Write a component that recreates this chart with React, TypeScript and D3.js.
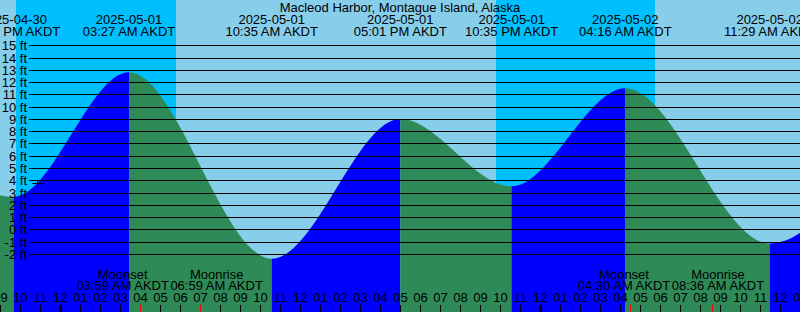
import React, { useMemo } from "react";
import * as d3 from "d3";

const W = 800;
const H = 312;
const FONT = "Liberation Sans, Arial, sans-serif";
const FS = 13;

const title = "Macleod Harbor, Montague Island, Alaska";
const tz = "AKDT";
// tide extremes (first and last lie just beyond the visible window)
const tideTimes = [
  "2025-04-30T15:35",
  "2025-04-30T21:41",
  "2025-05-01T03:27",
  "2025-05-01T10:35",
  "2025-05-01T17:01",
  "2025-05-01T22:35",
  "2025-05-02T04:16",
  "2025-05-02T11:29",
  "2025-05-02T17:50",
];
const tideHeights = [10.0, 2.65, 12.8, -2.4, 9.0, 3.5, 11.5, -1.15, 9.6];
const nightStarts = ["2025-04-30T21:48", "2025-05-01T21:48"];
const nightEnds = ["2025-05-01T05:48", "2025-05-02T05:45"];
const moonTimes = ["2025-05-01T03:59", "2025-05-01T06:59", "2025-05-02T04:30", "2025-05-02T08:36"];
const moonEvents = ["Moonset", "Moonrise", "Moonset", "Moonrise"];
const yTicks = d3.range(-2, 16);
const markerTime = "2025-04-30T22:50";
const markerHeight = 3.8;
const domainStart = "2025-04-30T21:00";
const domainEnd = "2025-05-02T13:00";

const parse = d3.utcParse("%Y-%m-%dT%H:%M");
const fmtDate = d3.utcFormat("%Y-%m-%d");
const fmtTime = d3.utcFormat("%I:%M %p");
const fmtHour = d3.utcFormat("%I");

const COLORS = {
  day: "#87CEEB",
  night: "#00BFFF",
  rising: "#0000FF",
  falling: "#2E8B57",
};

function measure(text: string): number {
  const c = document.createElement("canvas").getContext("2d");
  if (!c) return text.length * 7;
  c.font = `${FS}px ${FONT}`;
  return c.measureText(text).width;
}

export default function App() {
  const x = d3.scaleUtc().domain([parse(domainStart)!, parse(domainEnd)!]).range([0, W]);
  const y = d3.scaleLinear().domain([0, 15]).range([229.3, 45.3]);

  const tides = tideTimes.map((t, i) => ({ t: parse(t)!, v: tideHeights[i] }));

  const area = d3
    .area<{ t: Date; v: number }>()
    .x((d) => x(d.t))
    .y0(H)
    .y1((d) => y(d.v))
    .curve(d3.curveMonotoneX);
  const areaPath = area(tides) || "";

  const hours = d3.utcHour.range(parse(domainStart)!, d3.utcHour.offset(parse(domainEnd)!, 1));

  // moon labels with overlap resolution
  const moonLabels = useMemo(() => {
    const items = moonTimes.map((t, i) => {
      const d = parse(t)!;
      const timeStr = `${fmtTime(d)} ${tz}`;
      const w = Math.max(measure(timeStr), measure(moonEvents[i]));
      return { d, name: moonEvents[i], timeStr, w, cx: x(d) };
    });
    for (let i = 0; i < items.length - 1; i++) {
      const a = items[i];
      const b = items[i + 1];
      if (a.cx + a.w / 2 > b.cx - b.w / 2) {
        const mid = (x(a.d) + x(b.d)) / 2;
        a.cx = mid - a.w / 2;
        b.cx = mid + b.w / 2;
      }
    }
    return items;
  }, []);

  const textProps = { fontFamily: FONT, fontSize: FS, fill: "#000" };

  return (
    <svg
      width={W}
      height={H}
      style={{ position: "absolute", left: 0, top: 0, display: "block" }}
    >
      <defs>
        {tides.slice(0, -1).map((d, i) => (
          <clipPath id={`seg${i}`} key={i}>
            <rect x={x(d.t)} y={0} width={x(tides[i + 1].t) - x(d.t)} height={H} />
          </clipPath>
        ))}
      </defs>
      <rect x={0} y={0} width={W} height={H} fill={COLORS.day} />
      {nightStarts.map((s, i) => {
        const x0 = x(parse(s)!);
        const x1 = x(parse(nightEnds[i])!);
        return <rect key={i} x={x0} y={0} width={x1 - x0} height={H} fill={COLORS.night} />;
      })}
      {tides.slice(0, -1).map((d, i) => (
        <path
          key={i}
          d={areaPath}
          clipPath={`url(#seg${i})`}
          fill={tides[i + 1].v > d.v ? COLORS.rising : COLORS.falling}
        />
      ))}
      {/* horizontal grid lines */}
      {yTicks.map((v) => {
        const yy = Math.round(y(v)) + 0.5;
        return (
          <g key={v}>
            <line x1={29} x2={W} y1={yy} y2={yy} stroke="#000" strokeWidth={1} />
            <text {...textProps} x={27} y={yy + 4.5} textAnchor="end">
              {`${v} ft`}
            </text>
          </g>
        );
      })}
      {/* marker */}
      {(() => {
        const mx = Math.round(x(parse(markerTime)!)) + 0.5;
        const my = Math.round(y(markerHeight)) + 0.5;
        return (
          <g stroke="#000" strokeWidth={1}>
            <line x1={mx - 5} x2={mx + 6} y1={my} y2={my} />
            <line x1={mx} x2={mx} y1={my - 3} y2={my + 5} />
          </g>
        );
      })()}
      {/* title */}
      <text {...textProps} x={W / 2} y={12} textAnchor="middle">
        {title}
      </text>
      {/* tide extreme labels */}
      {tides.map((d, i) => (
        <g key={i}>
          <text {...textProps} x={x(d.t)} y={24} textAnchor="middle">
            {fmtDate(d.t)}
          </text>
          <text {...textProps} x={x(d.t)} y={36} textAnchor="middle">
            {`${fmtTime(d.t)} ${tz}`}
          </text>
        </g>
      ))}
      {/* moon labels */}
      {moonLabels.map((m, i) => (
        <g key={i}>
          <text {...textProps} x={m.cx} y={279} textAnchor="middle">
            {m.name}
          </text>
          <text {...textProps} x={m.cx} y={290} textAnchor="middle">
            {m.timeStr}
          </text>
        </g>
      ))}
      {/* hour labels and ticks */}
      {hours.map((h, i) => {
        const hx = Math.round(x(h)) + 0.5;
        const midnight = h.getUTCHours() === 0;
        return (
          <g key={i}>
            <text {...textProps} x={hx} y={302} textAnchor="middle">
              {fmtHour(h)}
            </text>
            <line
              x1={hx}
              x2={hx}
              y1={305}
              y2={H}
              stroke="#000"
              strokeWidth={midnight ? 3 : 1}
            />
          </g>
        );
      })}
      {moonTimes.map((t, i) => {
        const mx = Math.round(x(parse(t)!)) + 0.5;
        return <line key={i} x1={mx} x2={mx} y1={305} y2={H} stroke="#FF0000" strokeWidth={1} />;
      })}
    </svg>
  );
}
